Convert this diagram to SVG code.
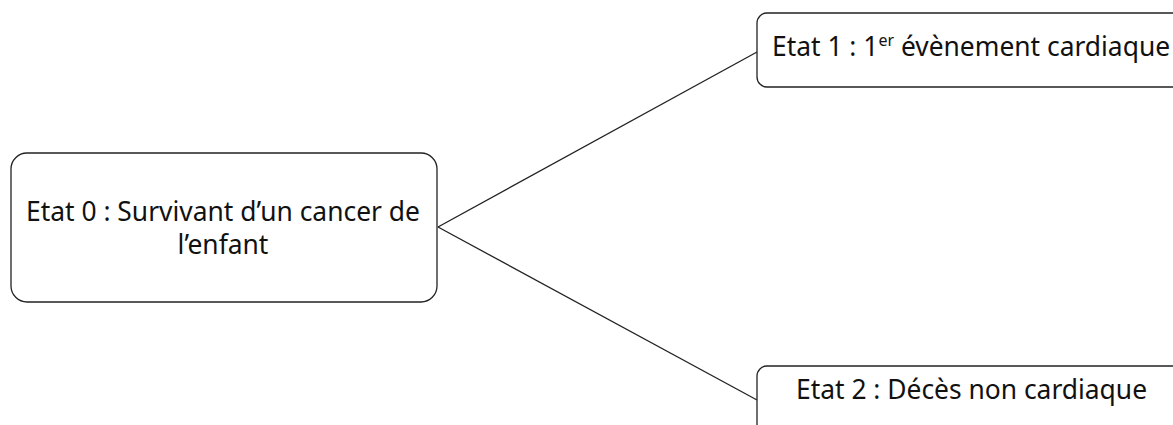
<svg xmlns="http://www.w3.org/2000/svg" width="1173" height="425" viewBox="0 0 1173 425">
<style>
.box{fill:#fff;stroke:#222;stroke-width:1.3}
.t{font-family:"Noto Sans","Open Sans","Liberation Sans",sans-serif;font-size:26.4px;fill:#111}
.c{stroke:#222;stroke-width:1.3;fill:none}
</style>
<rect width="1173" height="425" fill="#fff"/>
<g id="connectors">
<line class="c" x1="438" y1="227" x2="757" y2="52"/>
<line class="c" x1="438" y1="227" x2="757" y2="400"/>
</g>
<g id="node0">
<rect class="box" x="11" y="153" width="426" height="149" rx="16"/>
<text class="t" x="223" y="221" text-anchor="middle">Etat 0 : Survivant d’un cancer de</text>
<text class="t" x="223" y="254" text-anchor="middle">l’enfant</text>
</g>
<g id="node1">
<rect class="box" x="757" y="13" width="440" height="74" rx="10"/>
<text class="t" x="772" y="56">Etat 1 : 1<tspan font-size="16" dy="-10">er</tspan><tspan dy="10"> évènement cardiaque</tspan></text>
</g>
<g id="node2">
<rect class="box" x="757" y="366" width="440" height="80" rx="10"/>
<text class="t" x="796" y="399">Etat 2 : Décès non cardiaque</text>
</g>
</svg>
